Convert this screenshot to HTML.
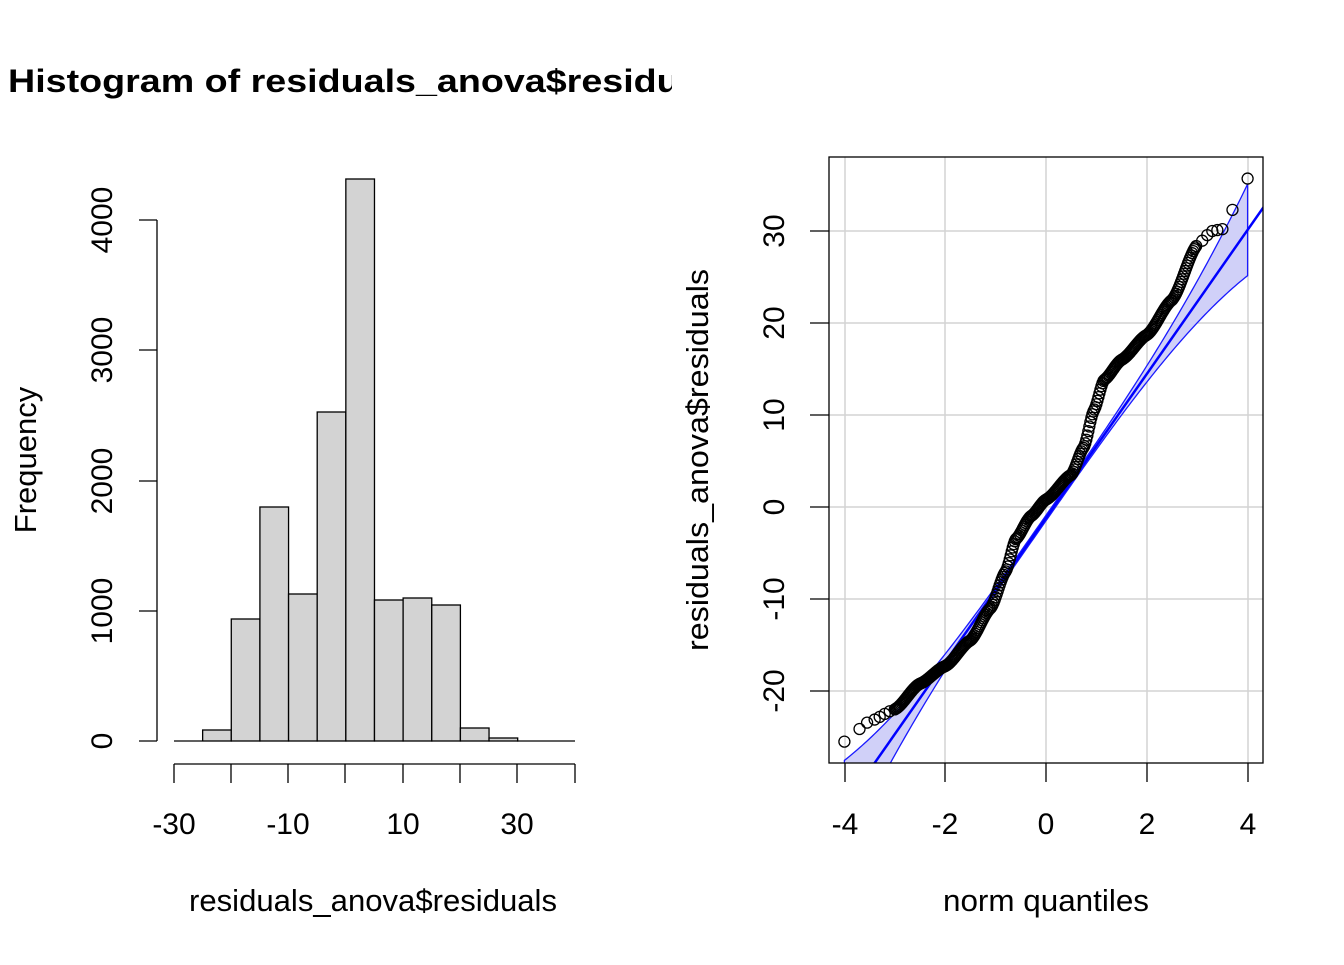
<!DOCTYPE html>
<html><head><meta charset="utf-8"><style>
html,body{margin:0;padding:0;background:#fff;}
svg text{font-family:"Liberation Sans",Arial,sans-serif;fill:#000;}
</style></head><body>
<svg id="s" width="1344" height="960" xmlns="http://www.w3.org/2000/svg">
<rect width="1344" height="960" fill="#fff"/>
<defs><clipPath id="cp"><rect x="829" y="157" width="434" height="606"/></clipPath>
<clipPath id="tc"><rect x="0" y="0" width="672" height="140"/></clipPath></defs>
<text x="8" y="92" font-size="32" font-weight="bold" clip-path="url(#tc)" textLength="724" lengthAdjust="spacingAndGlyphs">Histogram of residuals_anova$residuals</text>
<g id="hist" stroke="#000" stroke-width="1.3" fill="#d3d3d3"></g>
<g stroke="#000" stroke-width="1.3" fill="none">
<path d="M174 741H202M517 741H575"/>
<path d="M174 764H575M174 764v19M231 764v19M288 764v19M345 764v19M403 764v19M460 764v19M517 764v19M575 764v19"/>
<path d="M157 220V741M157 741H139M157 611H139M157 481H139M157 350H139M157 220H139"/>
</g>
<g font-size="30" text-anchor="middle">
<text x="174" y="834">-30</text><text x="288" y="834">-10</text><text x="403" y="834">10</text><text x="517" y="834">30</text>
<text x="373" y="911" font-size="31" textLength="368" lengthAdjust="spacingAndGlyphs">residuals_anova$residuals</text>
<text transform="translate(112,741) rotate(-90)">0</text>
<text transform="translate(112,611) rotate(-90)">1000</text>
<text transform="translate(112,481) rotate(-90)">2000</text>
<text transform="translate(112,350) rotate(-90)">3000</text>
<text transform="translate(112,220) rotate(-90)">4000</text>
<text transform="translate(36,460) rotate(-90)" font-size="31">Frequency</text>
</g>
<g stroke="#d3d3d3" stroke-width="1.5" id="grid"></g>
<g id="band" clip-path="url(#cp)"></g>
<g id="pts" clip-path="url(#cp)" fill="none" stroke="#000" stroke-width="1.3"></g>
<rect x="829" y="157" width="434" height="606" fill="none" stroke="#000" stroke-width="1.3"/>
<g stroke="#000" stroke-width="1.3" fill="none">
<path d="M845 763v19M945 763v19M1046 763v19M1147 763v19M1248 763v19"/>
<path d="M829 231h-19M829 323h-19M829 415h-19M829 507h-19M829 599h-19M829 691h-19"/>
</g>
<g font-size="30" text-anchor="middle">
<text x="845" y="834">-4</text><text x="945" y="834">-2</text><text x="1046" y="834">0</text><text x="1147" y="834">2</text><text x="1248" y="834">4</text>
<text x="1046" y="911" font-size="31" textLength="206" lengthAdjust="spacingAndGlyphs">norm quantiles</text>
<text transform="translate(784,231) rotate(-90)">30</text>
<text transform="translate(784,323) rotate(-90)">20</text>
<text transform="translate(784,415) rotate(-90)">10</text>
<text transform="translate(784,507) rotate(-90)">0</text>
<text transform="translate(784,599) rotate(-90)">-10</text>
<text transform="translate(784,691) rotate(-90)">-20</text>
<text transform="translate(708,460) rotate(-90)" font-size="31" textLength="382" lengthAdjust="spacingAndGlyphs">residuals_anova$residuals</text>
</g>
</svg>
<script>
const NS="http://www.w3.org/2000/svg";
function el(p,t,a){const e=document.createElementNS(NS,t);for(const k in a)e.setAttribute(k,a[k]);p.appendChild(e);return e;}
const tops=[741,730,619,507,594,412,179,600,598,605,728,738,741,741];
const h=document.getElementById('hist');
for(let i=1;i<12;i++){const x0=174+i*28.64;el(h,'rect',{x:x0,y:tops[i],width:28.64,height:741-tops[i]});}
const g=document.getElementById('grid');
[845,945,1046,1147,1248].forEach(x=>el(g,'line',{x1:x,x2:x,y1:157,y2:763}));
[231,323,415,507,599,691].forEach(y=>el(g,'line',{x1:829,x2:1263,y1:y,y2:y}));
const X=q=>1046+q*50.4, Y=v=>507-v*9.2;
const slope=7.83, ic=-1.2;
const band=document.getElementById('band');
let up=[],lo=[];
for(let q=-4;q<=4.001;q+=0.05){const m=slope*q+ic,w=0.3+0.073*Math.abs(q)**3;up.push([X(q),Y(m+w)]);lo.push([X(q),Y(m-w)]);}
const pd="M"+up.map(p=>p.join(',')).join('L')+"L"+lo.reverse().map(p=>p.join(',')).join('L')+"Z";
el(band,'path',{d:pd,fill:'#d0d0f8',stroke:'#1a1aff','stroke-width':1.3});
el(band,'line',{x1:X(-4.5),y1:Y(slope*-4.5+ic),x2:X(4.5),y2:Y(slope*4.5+ic),stroke:'#0000ff','stroke-width':2.5});
const A=[[-4,-25.5],[-3.5,-23.3],[-3,-22],[-2.5,-19.2],[-2,-17.3],[-1.5,-14.5],[-1.1,-11],[-0.8,-7],[-0.6,-3.5],[-0.3,-1],[0,0.8],[0.5,3.5],[0.75,6.5],[0.95,10.5],[1.15,13.8],[1.5,16],[2,18.7],[2.5,22.5],[3,28.5],[3.3,30],[3.5,30.2],[3.7,32.3],[4,35.7]];
function f(q){for(let i=0;i<A.length-1;i++){if(q<=A[i+1][0]){const t=(q-A[i][0])/(A[i+1][0]-A[i][0]);const s=t*t*(3-2*t);const tt=0.5*t+0.5*s;return A[i][1]+tt*(A[i+1][1]-A[i][1]);}}return A[A.length-1][1];}
const P=document.getElementById('pts');
const qs=[-4,-3.7,-3.55,-3.4,-3.3,-3.2,-3.1,3.1,3.2,3.3,3.4,3.5,3.7,4];
for(let q=-3;q<=3;q+=0.02)qs.push(q);
qs.forEach(q=>el(P,'circle',{cx:X(q),cy:Y(f(q)),r:5.5}));
</script>
</body></html>
